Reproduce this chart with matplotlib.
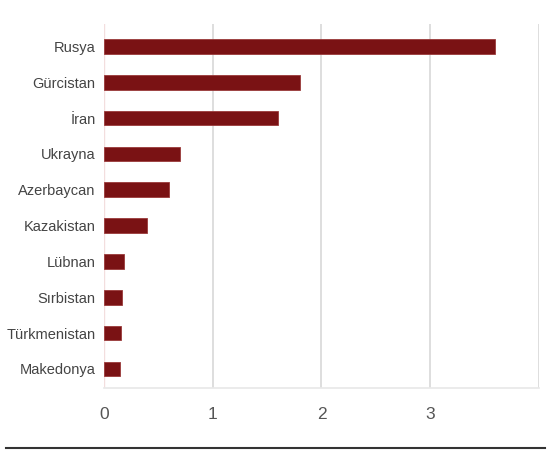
import matplotlib
matplotlib.use('Agg')
import matplotlib.pyplot as plt
from matplotlib.lines import Line2D

countries = ['Rusya', 'Gürcistan', 'İran', 'Ukrayna', 'Azerbaycan',
             'Kazakistan', 'Lübnan', 'Sırbistan', 'Türkmenistan', 'Makedonya']
values = [3.60, 1.80, 1.60, 0.70, 0.60, 0.40, 0.18, 0.17, 0.16, 0.15]
xticks = [0, 1, 2, 3]

plt.rcParams['font.family'] = ['Liberation Sans', 'DejaVu Sans']

fig = plt.figure(figsize=(5.5, 4.5), dpi=100)
ax = fig.add_axes([0.189, 0.138, 0.791, 0.809])

ypos = [len(countries) - 1 - i for i in range(len(countries))]
ax.barh(ypos, values, height=0.41, color='#7a1214', edgecolor='#9a3a3a', lw=0.6, zorder=3)

ax.set_yticks(ypos)
ax.set_yticklabels(countries, fontsize=10.5, color='#444444')
ax.set_xticks(xticks)
ax.set_xticklabels([str(t) for t in xticks], fontsize=12.5, color='#555555')
ax.set_xlim(0, 4.0)
ax.set_ylim(-0.53, 9.63)

# vertical grid lines, including the right edge at 4
for g in [1, 2, 3, 4]:
    ax.axvline(g, color='#d8d8d8', lw=1.2, zorder=1)
ax.axvline(0, color='#f3dede', lw=1.0, zorder=1)

for s in ['top', 'right', 'left']:
    ax.spines[s].set_visible(False)
ax.spines['bottom'].set_color('#e8e8e8')
ax.spines['bottom'].set_linewidth(1.2)
ax.tick_params(axis='both', length=0)
ax.tick_params(axis='x', pad=14)
ax.tick_params(axis='y', pad=6)

# dark rule along the bottom of the image
fig.add_artist(Line2D([0.01, 0.99], [0.005, 0.005], color='#333333', lw=1.5))

plt.savefig('out.png', dpi=100)
